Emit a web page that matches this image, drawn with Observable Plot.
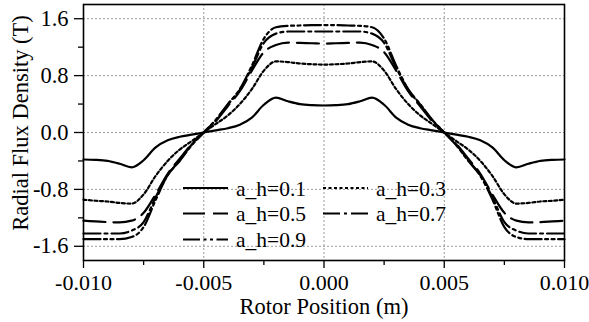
<!DOCTYPE html>
<html>
<head>
<meta charset="utf-8">
<script src="https://cdn.jsdelivr.net/npm/d3@7"></script>
<script src="https://cdn.jsdelivr.net/npm/@observablehq/plot@0.6"></script>
<style>
  body { margin: 0; background: #fff; }
  #chart svg { display: block; }
  #chart svg text { font-family: "Liberation Serif", "Times New Roman", serif !important; }
</style>
</head>
<body>
<div id="chart"></div>
<script>
// ---- data ----
const position = [
  -0.0100, -0.0095, -0.0090, -0.0085, -0.0080, -0.0075, -0.0070, -0.0065, -0.0060, -0.0055,
  -0.0050,
  -0.0045, -0.0040, -0.0035, -0.0030, -0.0025, -0.0020, -0.0015, -0.0010, -0.0005,
   0.0000,
   0.0005,  0.0010,  0.0015,  0.0020,  0.0025,  0.0030,  0.0035,  0.0040,  0.0045,
   0.0050,
   0.0055,  0.0060,  0.0065,  0.0070,  0.0075,  0.0080,  0.0085,  0.0090,  0.0095,  0.0100
];
const seriesNames = ["a_h=0.1", "a_h=0.3", "a_h=0.5", "a_h=0.7", "a_h=0.9"];
const ah01 = [
  -0.38, -0.385, -0.40, -0.44, -0.49, -0.39, -0.21, -0.11, -0.06, -0.03,
  0,
  0.03, 0.06, 0.11, 0.21, 0.39, 0.49, 0.44, 0.40, 0.385,
  0.38,
  0.385, 0.40, 0.44, 0.49, 0.39, 0.21, 0.11, 0.06, 0.03,
  0,
  -0.03, -0.06, -0.11, -0.21, -0.39, -0.49, -0.44, -0.40, -0.385, -0.38
];
const ah03 = [
  -0.945, -0.96, -0.97, -0.99, -1.00, -0.87, -0.61, -0.40, -0.24, -0.12,
  0,
  0.12, 0.24, 0.40, 0.61, 0.87, 1.00, 0.99, 0.97, 0.96,
  0.955,
  0.96, 0.97, 0.99, 1.00, 0.87, 0.61, 0.40, 0.24, 0.12,
  0,
  -0.12, -0.24, -0.40, -0.61, -0.87, -1.00, -0.99, -0.97, -0.96, -0.945
];
const ah05 = [
  -1.24, -1.25, -1.26, -1.265, -1.24, -1.13, -0.87, -0.58, -0.37, -0.16,
  0,
  0.16, 0.37, 0.58, 0.87, 1.13, 1.23, 1.265, 1.26, 1.255,
  1.25,
  1.255, 1.26, 1.265, 1.23, 1.13, 0.87, 0.58, 0.37, 0.16,
  0,
  -0.16, -0.37, -0.58, -0.87, -1.13, -1.24, -1.265, -1.26, -1.25, -1.24
];
const ah07 = [
  -1.42, -1.42, -1.42, -1.42, -1.38, -1.26, -0.91, -0.60, -0.39, -0.17,
  0,
  0.17, 0.39, 0.60, 0.91, 1.26, 1.39, 1.42, 1.42, 1.42,
  1.42,
  1.42, 1.42, 1.42, 1.39, 1.26, 0.91, 0.60, 0.39, 0.17,
  0,
  -0.17, -0.39, -0.60, -0.91, -1.26, -1.38, -1.42, -1.42, -1.42, -1.42
];
const ah09 = [
  -1.50, -1.50, -1.50, -1.50, -1.47, -1.33, -0.95, -0.60, -0.40, -0.18,
  0,
  0.18, 0.40, 0.61, 0.94, 1.32, 1.48, 1.50, 1.505, 1.51,
  1.51,
  1.51, 1.505, 1.50, 1.48, 1.32, 0.94, 0.61, 0.40, 0.18,
  0,
  -0.18, -0.40, -0.61, -0.94, -1.33, -1.47, -1.50, -1.50, -1.50, -1.50
];
const seriesValues = [ah01, ah03, ah05, ah07, ah09];

const xTicks = [-0.010, -0.005, 0.000, 0.005, 0.010];
const xTickLabels = ["-0.010", "-0.005", "0.000", "0.005", "0.010"];
const xMinorTicks = [-0.0075, -0.0025, 0.0025, 0.0075];
const yTicks = [-1.6, -0.8, 0.0, 0.8, 1.6];
const yTickLabels = ["-1.6", "-0.8", "0.0", "0.8", "1.6"];
const yMinorTicks = [-1.2, -0.4, 0.4, 1.2];
const xTitle = "Rotor Position (m)";
const yTitle = "Radial Flux Density (T)";

// ---- styles ----
const dashStyles = ["none", "3,2.5", "22,8", "17,4,3,4", "17,3.5,3,3.5,3,3.5"];

// ---- build table ----
const rows = [];
seriesValues.forEach((vals, s) => {
  vals.forEach((v, i) => rows.push({ pos: position[i], flux: v, series: seriesNames[s] }));
});

const font = "Liberation Serif, Times New Roman, serif";

const lineMarks = seriesNames.map((name, s) =>
  Plot.line(rows.filter(d => d.series === name), {
    x: "pos", y: "flux",
    stroke: "black", strokeWidth: 2.2,
    strokeDasharray: dashStyles[s] === "none" ? null : dashStyles[s],
    curve: "monotone-x"
  })
);

const chart = Plot.plot({
  width: 589,
  height: 322,
  marginLeft: 83,
  marginRight: 25,
  marginTop: 4,
  marginBottom: 62,
  x: { domain: [-0.010, 0.010] },
  y: { domain: [-1.8, 1.8] },
  style: { fontFamily: font, background: "white", color: "black" },
  marks: [
    Plot.gridX(xTicks, { stroke: "#9a9a9a", strokeOpacity: 1, strokeWidth: 1, strokeDasharray: "2,2" }),
    Plot.gridY(yTicks, { stroke: "#9a9a9a", strokeOpacity: 1, strokeWidth: 1, strokeDasharray: "2,2" }),
    ...lineMarks,
    Plot.axisX(xTicks, {
      tickSize: 8, tickPadding: 6, fontSize: 22, label: null,
      strokeWidth: 1.3,
      tickFormat: d => xTickLabels[xTicks.indexOf(d)]
    }),
    Plot.axisX(xMinorTicks, { tickSize: 5, label: null, strokeWidth: 1.3, tickFormat: () => "" }),
    Plot.axisY(yTicks, {
      tickSize: 9, tickPadding: 6, fontSize: 22.5, label: null,
      strokeWidth: 1.3,
      tickFormat: d => yTickLabels[yTicks.indexOf(d)]
    }),
    Plot.axisY(yMinorTicks, { tickSize: 5, label: null, strokeWidth: 1.3, tickFormat: () => "" }),
    Plot.frame({ stroke: "black", strokeWidth: 1.6 })
  ]
});

document.getElementById("chart").appendChild(chart);

// ---- axis titles and legend ----
const svg = d3.select(chart);
svg.append("text")
  .attr("x", 324).attr("y", 314)
  .attr("text-anchor", "middle")
  .attr("font-size", 22.5).attr("fill", "black")
  .text(xTitle);
svg.append("text")
  .attr("transform", "translate(28,123) rotate(-90)")
  .attr("text-anchor", "middle")
  .attr("font-size", 22.5).attr("fill", "black")
  .text(yTitle);

const legendSlots = [
  { col: 0, row: 0 }, { col: 1, row: 0 },
  { col: 0, row: 1 }, { col: 1, row: 1 },
  { col: 0, row: 2 }
];
const colX = [183, 323];
const rowY = [188, 213.5, 239.5];
const lg = svg.append("g");
seriesNames.forEach((name, s) => {
  const { col, row } = legendSlots[s];
  const x0 = colX[col], y0 = rowY[row];
  lg.append("line")
    .attr("x1", x0).attr("x2", x0 + 45)
    .attr("y1", y0).attr("y2", y0)
    .attr("stroke", "black").attr("stroke-width", 2.2)
    .attr("stroke-dasharray", dashStyles[s] === "none" ? null : dashStyles[s]);
  lg.append("text")
    .attr("x", x0 + 53).attr("y", y0 + 7.5)
    .attr("text-anchor", "start")
    .attr("font-size", 21.5).attr("fill", "black")
    .text(name);
});
</script>
</body>
</html>
